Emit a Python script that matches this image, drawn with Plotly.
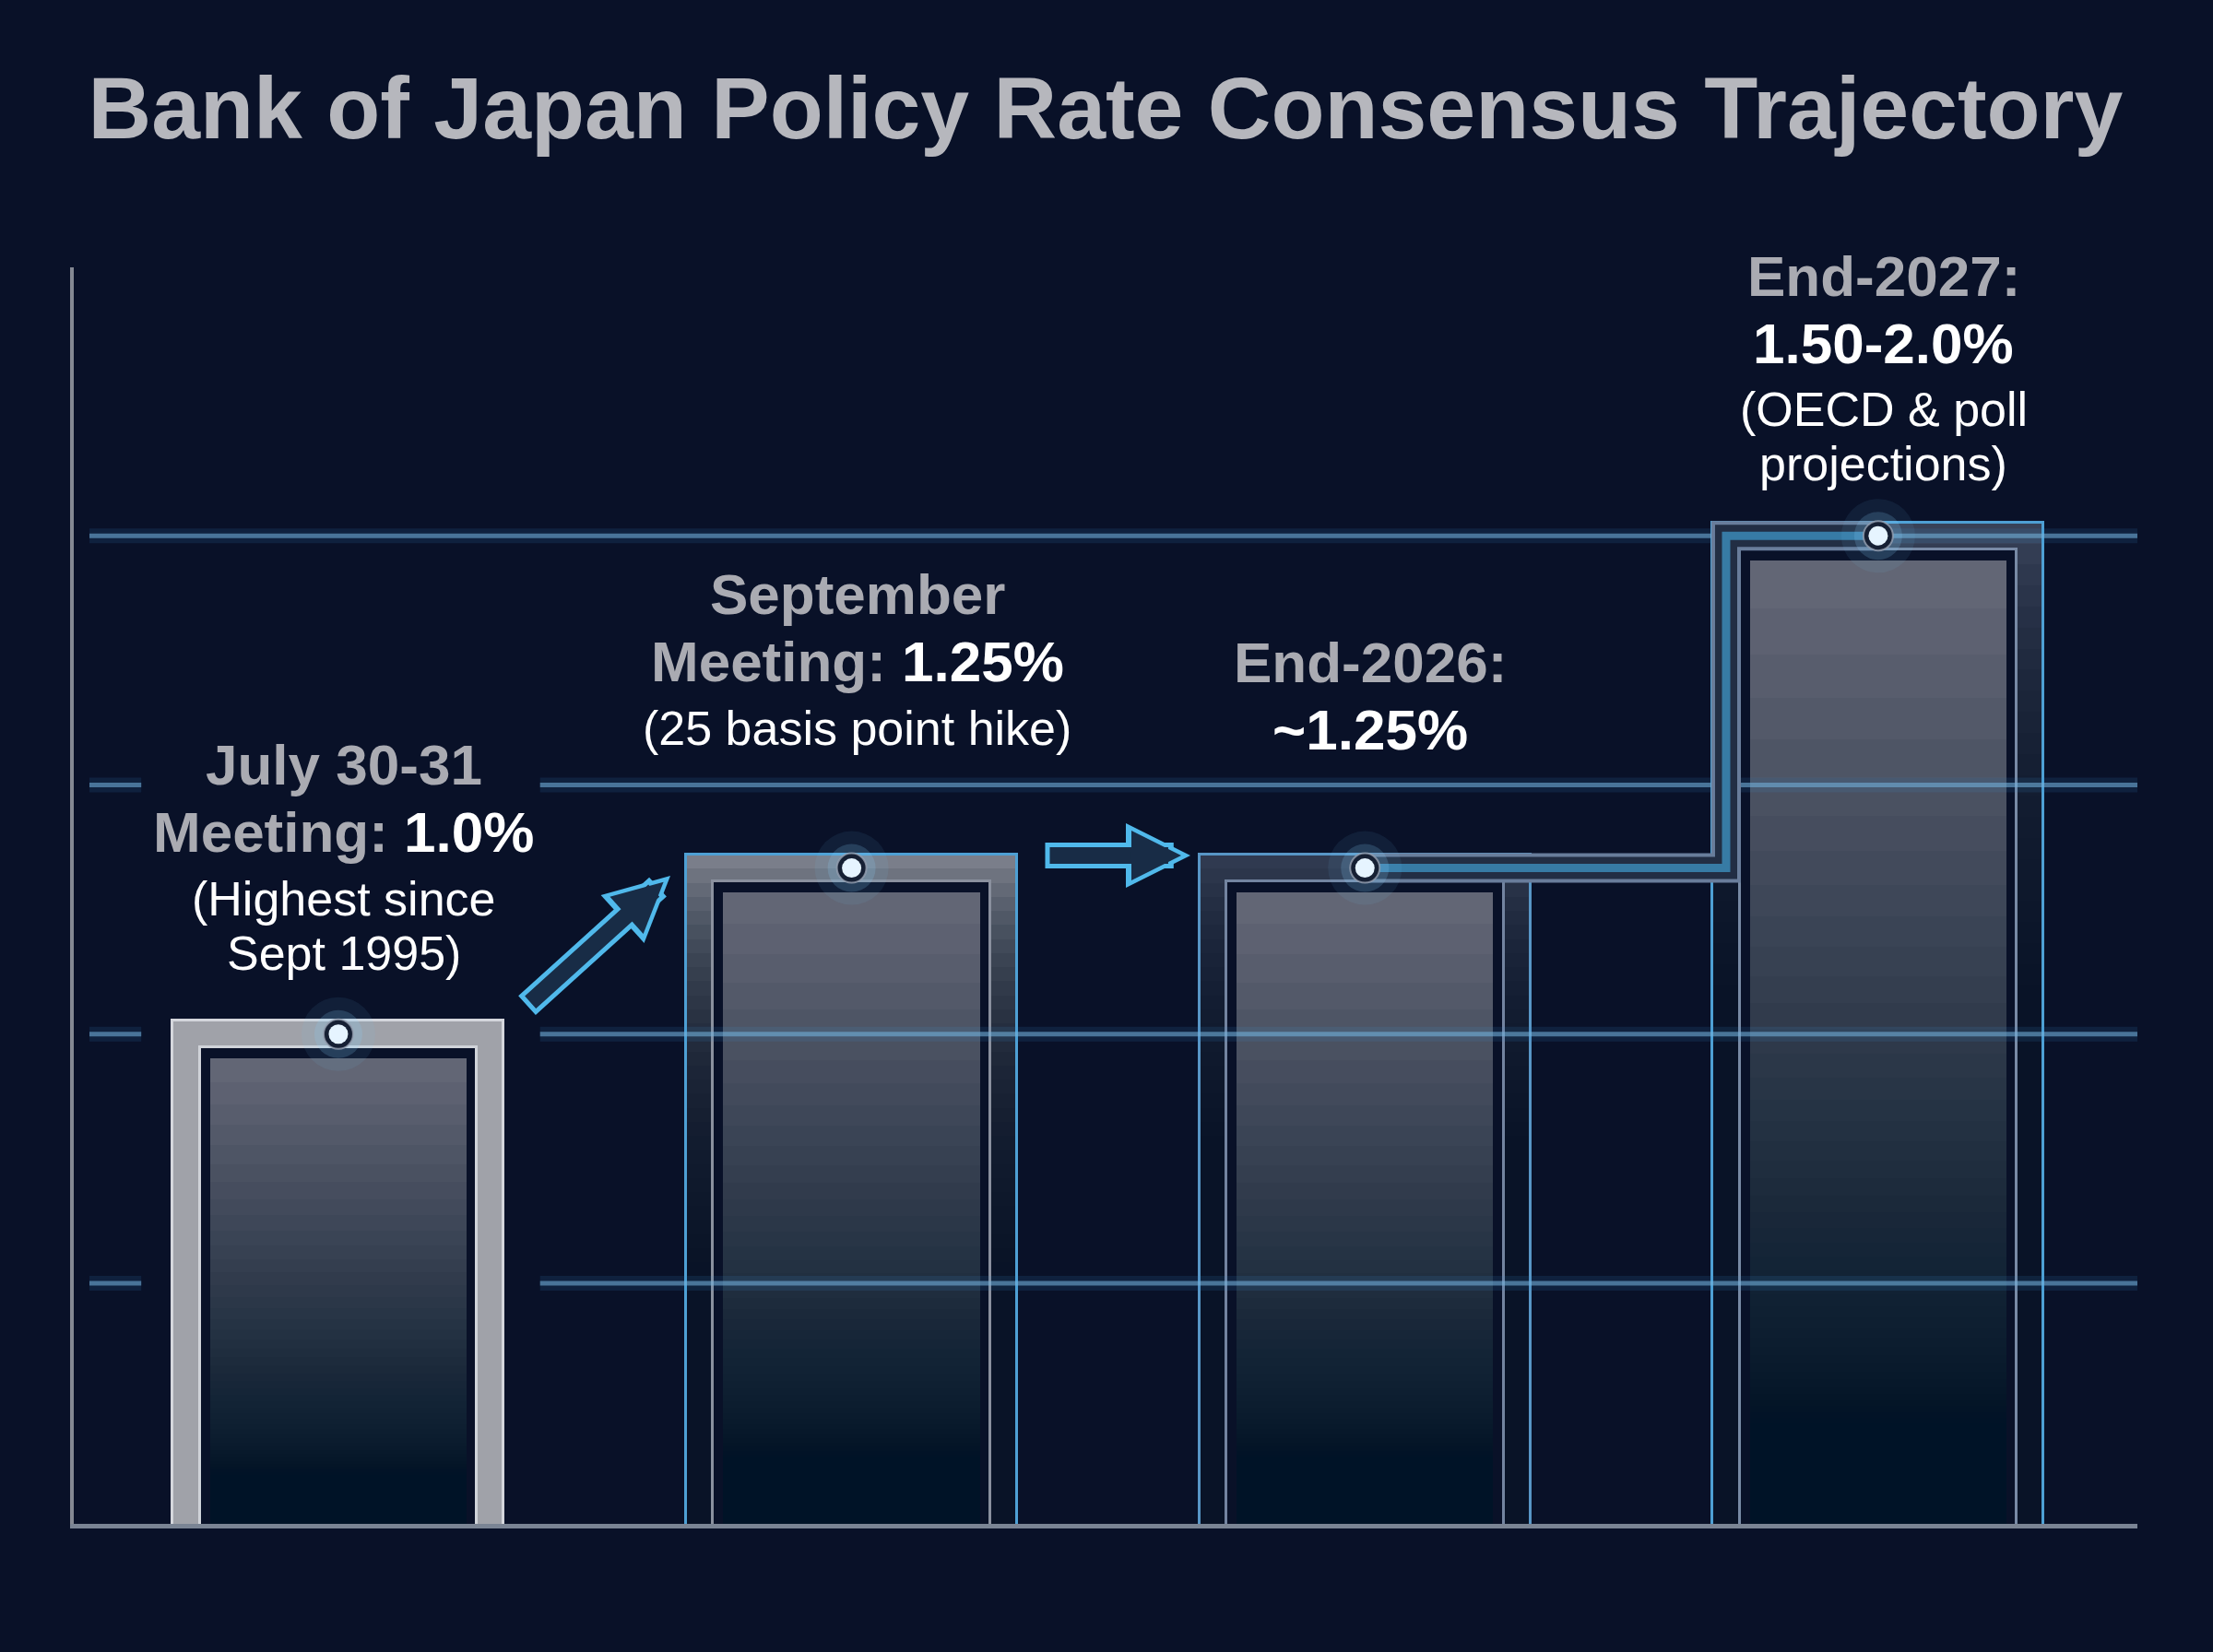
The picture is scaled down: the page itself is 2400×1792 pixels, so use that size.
import plotly.graph_objects as go

# ---- data ----
categories = ["July 30-31 Meeting", "September Meeting", "End-2026", "End-2027"]
rates = [1.0, 1.25, 1.25, 1.75]   # end-2027 bar sits at the middle of the 1.50-2.0% range
rate_text = ["1.0%", "1.25%", "~1.25%", "1.50-2.0%"]
label_heads = ["July 30-31<br>Meeting:", "September<br>Meeting:", "End-2026:<br>", "End-2027:<br>"]
label_notes = ["(Highest since<br>Sept 1995)", "(25 basis point hike)", "", "(OECD & poll<br>projections)"]

# ---- look ----
BG = "rgb(9,17,40)"
GREY_TXT = "rgb(170,171,178)"
FONT = "Liberation Sans"

Y_MIN, Y_MAX = 0.263, 2.154
X_MIN, X_MAX = -0.5155, 3.505
GRID_BASE, GRID_STEP = 1.0, 0.375

OUTER_W, CUT_W, INNER_W = 0.645, 0.54, 0.5
FRAME_UP, CUT_DOWN, INNER_DOWN = 0.02, 0.02, 0.037

frame_fill = ["rgb(160,162,169)", "rgb(122,126,138)", "rgb(48,58,80)", "rgb(56,66,88)"]
edge_line = ["rgb(212,214,220)", "rgb(78,160,212)", "rgb(88,150,198)", "rgb(78,160,212)"]
cut_line = ["rgb(208,211,217)", "rgb(138,144,158)", "rgb(115,132,160)", "rgb(120,138,165)"]
fade_frame = [False, True, True, True]
label_gap = [88, 152, 150, 78]   # px from the dot up to the last label line

x = list(range(len(categories)))
frame_top = [r + FRAME_UP for r in rates]
cut_top = [r - CUT_DOWN for r in rates]
inner_top = [r - INNER_DOWN for r in rates]

fig = go.Figure()


def add_bar(y, width, color, line_color="rgba(0,0,0,0)", line_width=0, **kw):
    fig.add_trace(go.Bar(x=x, y=y, width=width,
                         marker=dict(color=color, line=dict(color=line_color, width=line_width)),
                         showlegend=False, hoverinfo="skip", **kw))


# outer frame, fading towards the baseline for the later bars
add_bar(frame_top, OUTER_W, frame_fill)
for k in range(1, 48):
    h = 1 - k * 0.021
    add_bar([Y_MIN + (f - Y_MIN) * h if fd else None for f, fd in zip(frame_top, fade_frame)],
            OUTER_W, "rgba(9,17,40,0.1)")
add_bar(frame_top, OUTER_W, "rgba(0,0,0,0)", edge_line, 3)

# dark cut-out inside the frame
add_bar(cut_top, CUT_W, BG, cut_line, 3)

# inner bar with a top-to-bottom fade
fig.add_trace(go.Bar(x=x, y=inner_top, width=INNER_W, marker=dict(color="rgb(98,102,117)", line=dict(width=0)),
                     hovertext=[f"{c}: {t}" for c, t in zip(categories, rate_text)], hoverinfo="text",
                     showlegend=False))
for k in range(1, 46):
    h = 0.95 ** k
    add_bar([Y_MIN + (t - Y_MIN) * h for t in inner_top], INNER_W, "rgba(9,17,40,0.05)")

# glowing grid lines (drawn over bars 2-4, leaving bar 1 clear)
grid_vals = [GRID_BASE + k * GRID_STEP for k in (-1, 0, 1, 2)]
gx, gy = [], []
for g in grid_vals:
    if g == max(grid_vals):
        gx += [-0.485, X_MAX, None]
        gy += [g, g, None]
    else:
        gx += [-0.485, -0.384, None, 0.393, X_MAX, None]
        gy += [g, g, None, g, g, None]
fig.add_trace(go.Scatter(x=gx, y=gy, mode="lines", line=dict(color="rgba(60,150,220,0.13)", width=16),
                         showlegend=False, hoverinfo="skip"))
fig.add_trace(go.Scatter(x=gx, y=gy, mode="lines", line=dict(color="rgba(115,178,218,0.58)", width=5),
                         showlegend=False, hoverinfo="skip"))

# step connector from end-2026 up to end-2027
x_step = x[3] - OUTER_W / 2 + (OUTER_W - CUT_W) / 4
cx = [x[2], x_step, x_step, x[3]]
cy = [rates[2], rates[2], rates[3], rates[3]]
for col, w in [("rgb(105,125,155)", 32), ("rgb(34,46,68)", 24), ("rgba(70,175,230,0.6)", 9)]:
    fig.add_trace(go.Scatter(x=cx, y=cy, mode="lines", line=dict(color=col, width=w),
                             showlegend=False, hoverinfo="skip"))

# glowing dots on top of each bar
for size, col, lc, lw in [(80, "rgba(120,200,255,0.08)", None, 0),
                          (52, "rgba(140,210,255,0.18)", None, 0),
                          (32, "rgb(22,32,52)", "rgba(150,160,178,0.8)", 2),
                          (21, "rgb(230,244,255)", None, 0)]:
    fig.add_trace(go.Scatter(x=x, y=rates, mode="markers",
                             marker=dict(size=size, color=col, line=dict(color=lc or col, width=lw)),
                             showlegend=False, hoverinfo="skip"))

# labels, one annotation per line
PITCH = {("b", "b"): 73, ("b", "r"): 72, ("r", "r"): 59}
for i in x:
    head = label_heads[i]
    sep = "" if head.endswith("<br>") else " "
    bold = (head + sep + f"<span style='color:#ffffff'>{rate_text[i]}</span>").split("<br>")
    notes = label_notes[i].split("<br>") if label_notes[i] else []
    lines = [(t, "b") for t in bold] + [(t, "r") for t in notes]
    shift = label_gap[i]
    shifts = [0] * len(lines)
    for j in range(len(lines) - 1, -1, -1):
        shifts[j] = shift
        if j > 0:
            shift += PITCH[(lines[j - 1][1], lines[j][1])]
    for (t, kind), s in zip(lines, shifts):
        fig.add_annotation(x=i, y=rates[i], xref="x", yref="y", text=t, showarrow=False,
                           xshift=6, yshift=s, yanchor="middle", xanchor="center",
                           font=dict(family=FONT, size=62 if kind == "b" else 52,
                                     weight="bold" if kind == "b" else "normal",
                                     color=GREY_TXT if kind == "b" else "#ffffff"))

# outlined block arrows between the first bars
for ax_, ay_, px, py in [(-157, 142, 0.2891, 0.5158), (-159, 0, 0.5411, 0.5319)]:
    fig.add_annotation(xref="paper", yref="paper", x=px, y=py, ax=ax_, ay=ay_, text="",
                       showarrow=True, arrowhead=2, arrowsize=0.5, arrowwidth=28,
                       arrowcolor="rgb(80,185,235)")
    fig.add_annotation(xref="paper", yref="paper", x=px, y=py, ax=ax_, ay=ay_, text="",
                       showarrow=True, arrowhead=2, arrowsize=0.6, arrowwidth=18,
                       arrowcolor="rgb(24,44,70)", standoff=10, startstandoff=5)

fig.update_layout(
    width=2400, height=1792,
    paper_bgcolor=BG, plot_bgcolor=BG,
    barmode="overlay", bargap=0,
    margin=dict(l=80, r=82, t=290, b=139),
    title=dict(text="Bank of Japan Policy Rate Consensus Trajectory",
               x=0.5, xanchor="center", xref="paper", y=1 - 117 / 1792, yanchor="middle", yref="container",
               font=dict(family=FONT, size=95, weight="bold", color="rgb(182,183,189)")),
    xaxis=dict(range=[X_MIN, X_MAX], showgrid=False, zeroline=False, showticklabels=False,
               ticks="", showline=True, linecolor="rgb(122,132,148)", linewidth=5),
    yaxis=dict(range=[Y_MIN, Y_MAX], showgrid=False, zeroline=False, showticklabels=False,
               ticks="", showline=True, linecolor="rgb(132,136,146)", linewidth=4),
)

fig.write_html("out.html", config={"displayModeBar": False},
               post_script="document.body.style.margin='0';")
